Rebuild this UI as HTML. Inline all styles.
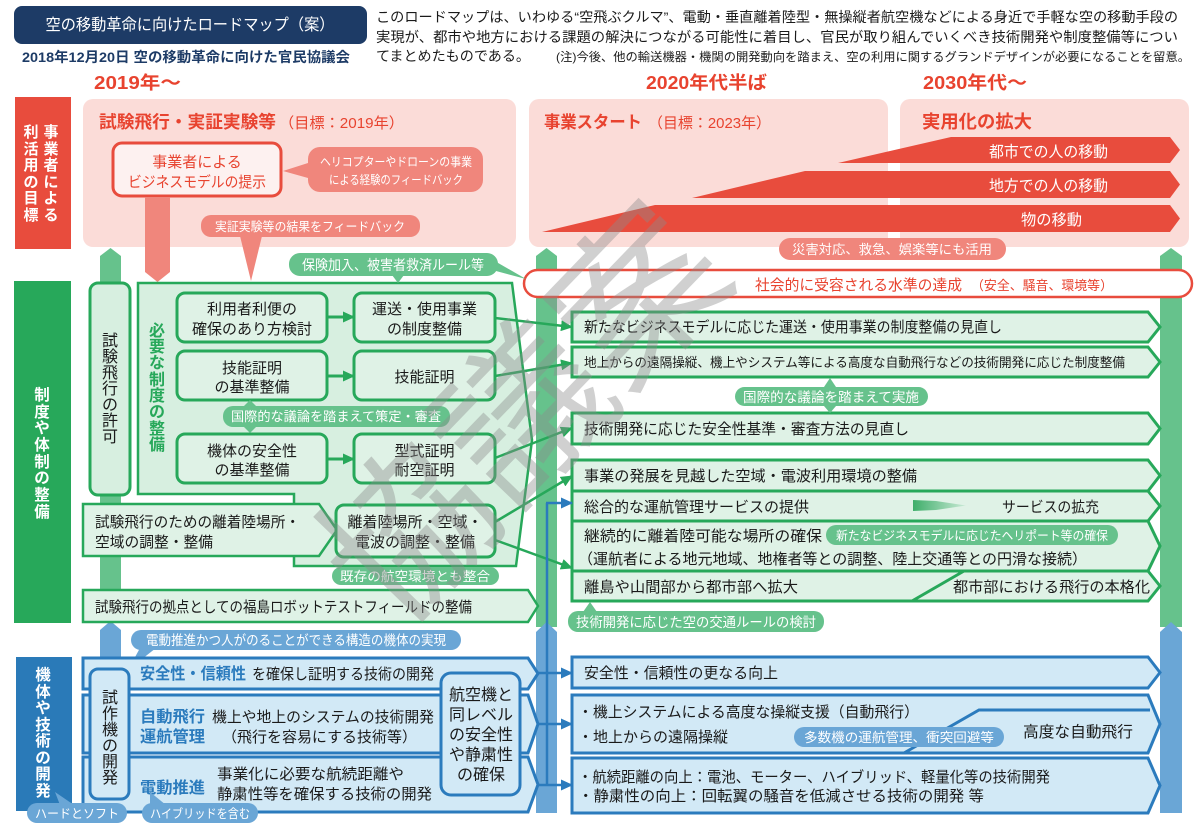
<!DOCTYPE html>
<html><head><meta charset="utf-8">
<style>
html,body{margin:0;padding:0;background:#fff;}
svg{display:block;}
text{font-family:"Liberation Sans","Noto Sans CJK JP",sans-serif;}
</style></head><body>
<svg width="1200" height="831" viewBox="0 0 1200 831" xmlns="http://www.w3.org/2000/svg">
<defs>
<marker id="ag" markerUnits="userSpaceOnUse" markerWidth="12" markerHeight="11" refX="11" refY="5.5" orient="auto"><path d="M0,0 L12,5.5 L0,11 z" fill="#27a85a"/></marker>
<marker id="ab" markerUnits="userSpaceOnUse" markerWidth="12" markerHeight="11" refX="11" refY="5.5" orient="auto"><path d="M0,0 L12,5.5 L0,11 z" fill="#2b7bbd"/></marker>
<linearGradient id="wg" x1="0" x2="1" y1="0" y2="0"><stop offset="0" stop-color="#3fae6a"/><stop offset="1" stop-color="#c9ead6"/></linearGradient>
</defs>

<!-- Header -->
<rect x="14" y="6" width="353" height="38" rx="8" fill="#1d3b66"/>
<text x="190" y="30" text-anchor="middle" font-size="16" fill="#fff" textLength="289" lengthAdjust="spacingAndGlyphs">空の移動革命に向けたロードマップ（案）</text>
<text x="22" y="62" font-size="14" font-weight="bold" fill="#1d3b66" textLength="328" lengthAdjust="spacingAndGlyphs">2018年12月20日 空の移動革命に向けた官民協議会</text>
<g font-size="14" fill="#1a1a1a">
<text x="376" y="22" textLength="802" lengthAdjust="spacingAndGlyphs">このロードマップは、いわゆる“空飛ぶクルマ”、電動・垂直離着陸型・無操縦者航空機などによる身近で手軽な空の移動手段の</text>
<text x="376" y="42" textLength="802" lengthAdjust="spacingAndGlyphs">実現が、都市や地方における課題の解決につながる可能性に着目し、官民が取り組んでいくべき技術開発や制度整備等につい</text>
<text x="376" y="61" textLength="154" lengthAdjust="spacingAndGlyphs">てまとめたものである。</text>
<text x="556" y="61" font-size="12" textLength="634" lengthAdjust="spacingAndGlyphs">(注)今後、他の輸送機器・機関の開発動向を踏まえ、空の利用に関するグランドデザインが必要になることを留意。</text>
</g>
<g font-size="18" font-weight="bold" fill="#e8432f">
<text x="94" y="89" textLength="87" lengthAdjust="spacingAndGlyphs">2019年～</text>
<text x="646" y="89" textLength="121" lengthAdjust="spacingAndGlyphs">2020年代半ば</text>
<text x="923" y="89" textLength="104" lengthAdjust="spacingAndGlyphs">2030年代～</text>
</g>

<!-- Row 1 -->
<rect x="15" y="97" width="56" height="152" fill="#e84c3d"/>
<g fill="#fff" font-size="15" font-weight="bold" text-anchor="middle">
<text x="51" y="137">事</text><text x="51" y="154">業</text><text x="51" y="170">者</text><text x="51" y="187">に</text><text x="51" y="203">よ</text><text x="51" y="220">る</text>
<text x="31" y="137">利</text><text x="31" y="154">活</text><text x="31" y="170">用</text><text x="31" y="187">の</text><text x="31" y="203">目</text><text x="31" y="220">標</text>
</g>
<rect x="83" y="99" width="433" height="148" rx="10" fill="#fbdcd8"/>
<rect x="529" y="99" width="359" height="148" rx="10" fill="#fbdcd8"/>
<rect x="900" y="99" width="289" height="148" rx="10" fill="#fbdcd8"/>
<g fill="#e8432f">
<text x="99" y="128" font-size="17.5" font-weight="bold" textLength="177" lengthAdjust="spacingAndGlyphs">試験飛行・実証実験等</text>
<text x="279" y="128" font-size="15" textLength="125" lengthAdjust="spacingAndGlyphs">（目標：2019年）</text>
<text x="544" y="128" font-size="17" font-weight="bold" textLength="98" lengthAdjust="spacingAndGlyphs">事業スタート</text>
<text x="648" y="128" font-size="15" textLength="123" lengthAdjust="spacingAndGlyphs">（目標：2023年）</text>
<text x="922" y="128" font-size="18" font-weight="bold" textLength="110" lengthAdjust="spacingAndGlyphs">実用化の拡大</text>
</g>
<!-- business model box -->
<rect x="113" y="143" width="168" height="53" rx="9" fill="#fdf1f0" stroke="#e84c3d" stroke-width="3"/>
<g fill="#e8432f" font-size="15" text-anchor="middle">
<text x="197" y="167">事業者による</text>
<text x="197" y="187" textLength="138" lengthAdjust="spacingAndGlyphs">ビジネスモデルの提示</text>
</g>
<path d="M320,147 H471 a12,12 0 0 1 12,12 V180 a12,12 0 0 1 -12,12 H320 a12,12 0 0 1 -12,-12 V178 L283,171 L308,163 V159 a12,12 0 0 1 12,-12 z" fill="#f0867c"/>
<g fill="#fff" font-size="12" text-anchor="middle">
<text x="396" y="166" textLength="152" lengthAdjust="spacingAndGlyphs">ヘリコプターやドローンの事業</text>
<text x="396" y="184" textLength="134" lengthAdjust="spacingAndGlyphs">による経験のフィードバック</text>
</g>
<polygon points="145,197 170,197 170,272 157.5,282 145,272" fill="#f0867c"/>
<rect x="201" y="215" width="219" height="22" rx="10" fill="#f0867c"/>
<polygon points="240,236 262,236 251,281" fill="#f0867c"/>
<text x="310" y="231" text-anchor="middle" font-size="12.5" fill="#fff" textLength="190" lengthAdjust="spacingAndGlyphs">実証実験等の結果をフィードバック</text>

<!-- red arrows -->
<g fill="#e84c3d">
<polygon points="838,163 951,137 1170,137 1180,150 1170,163"/>
<polygon points="692,198 805,171 1170,171 1180,184.5 1170,198"/>
<polygon points="542,232 655,205 1170,205 1180,218.5 1170,232"/>
</g>
<g fill="#fff" font-size="15.5">
<text x="989" y="157" textLength="119" lengthAdjust="spacingAndGlyphs">都市での人の移動</text>
<text x="989" y="191" textLength="119" lengthAdjust="spacingAndGlyphs">地方での人の移動</text>
<text x="1021" y="225" textLength="61" lengthAdjust="spacingAndGlyphs">物の移動</text>
</g>
<rect x="779" y="238" width="227" height="22" rx="11" fill="#f0867c"/>
<text x="892" y="254" text-anchor="middle" font-size="13" fill="#fff" textLength="200" lengthAdjust="spacingAndGlyphs">災害対応、救急、娯楽等にも活用</text>

<!-- vertical bars -->
<g fill="#66c28c">
<polygon points="100,256 110.5,248 121,256 121,622 100,622"/>
<polygon points="536,256 546.5,248 557,256 557,627 536,627"/>
<polygon points="1160,256 1171,248 1182,256 1182,627 1160,627"/>
</g>
<g fill="#6aa6d6">
<polygon points="100,630 110.5,621 121,630 121,662 100,662"/>
<polygon points="536,632 546.5,622 557,632 557,813 536,813"/>
<polygon points="1160,632 1171,622 1182,632 1182,813 1160,813"/>
</g>

<!-- social acceptance -->
<rect x="524" y="270" width="668" height="27" rx="13.5" fill="#fff" stroke="#e84c3d" stroke-width="2.5"/>
<text x="755" y="290" font-size="15" fill="#e8432f" textLength="207" lengthAdjust="spacingAndGlyphs">社会的に受容される水準の達成</text>
<text x="971" y="290" font-size="13" fill="#e8432f" textLength="142" lengthAdjust="spacingAndGlyphs">（安全、騒音、環境等）</text>

<!-- Row 2 label -->
<rect x="14" y="281" width="57" height="342" fill="#27a85a"/>
<g fill="#fff" font-size="15.5" font-weight="bold" text-anchor="middle">
<text x="42" y="400">制</text><text x="42" y="417">度</text><text x="42" y="433">や</text><text x="42" y="450">体</text><text x="42" y="467">制</text><text x="42" y="483">の</text><text x="42" y="500">整</text><text x="42" y="517">備</text>
</g>

<!-- 試験飛行の許可 -->
<rect x="90" y="283" width="40" height="212" rx="8" fill="#d7efe0" stroke="#27a85a" stroke-width="3"/>
<g fill="#1a1a1a" font-size="16" text-anchor="middle">
<text x="110" y="346">試</text><text x="110" y="362">験</text><text x="110" y="378">飛</text><text x="110" y="394">行</text><text x="110" y="410">の</text><text x="110" y="426">許</text><text x="110" y="442">可</text>
</g>

<!-- big polygon -->
<path d="M138,283 L512,283 L532,440 L516,566 L294,566 L294,494 L138,494 Z" fill="#d7efe0" stroke="#27a85a" stroke-width="2.5"/>
<g fill="#27a85a" font-size="16" font-weight="bold" text-anchor="middle">
<text x="157" y="336">必</text><text x="157" y="352">要</text><text x="157" y="368">な</text><text x="157" y="385">制</text><text x="157" y="401">度</text><text x="157" y="417">の</text><text x="157" y="434">整</text><text x="157" y="450">備</text>
</g>
<g fill="#dff2e6" stroke="#27a85a" stroke-width="3">
<rect x="177" y="293" width="150" height="49" rx="8"/>
<rect x="354" y="293" width="141" height="49" rx="8"/>
<rect x="177" y="351" width="150" height="49" rx="8"/>
<rect x="354" y="351" width="141" height="49" rx="8"/>
<rect x="177" y="434" width="150" height="49" rx="8"/>
<rect x="354" y="434" width="141" height="49" rx="8"/>
</g>
<g fill="#1a1a1a" font-size="15" text-anchor="middle">
<text x="252" y="314">利用者利便の</text>
<text x="252" y="334">確保のあり方検討</text>
<text x="424.5" y="314">運送・使用事業</text>
<text x="424.5" y="334">の制度整備</text>
<text x="252" y="373">技能証明</text>
<text x="252" y="392">の基準整備</text>
<text x="424.5" y="382">技能証明</text>
<text x="252" y="456">機体の安全性</text>
<text x="252" y="475">の基準整備</text>
<text x="424.5" y="456">型式証明</text>
<text x="424.5" y="475">耐空証明</text>
</g>
<g stroke="#27a85a" stroke-width="3">
<line x1="327" y1="317" x2="354" y2="317" marker-end="url(#ag)"/>
<line x1="327" y1="376" x2="354" y2="376" marker-end="url(#ag)"/>
<line x1="327" y1="459" x2="354" y2="459" marker-end="url(#ag)"/>
</g>
<rect x="223" y="406" width="227" height="21" rx="10" fill="#66c28c"/>
<polygon points="244,406 256,406 250,400" fill="#66c28c"/>
<polygon points="244,427 256,427 250,433" fill="#66c28c"/>
<text x="336" y="421" text-anchor="middle" font-size="13" fill="#fff" textLength="210" lengthAdjust="spacingAndGlyphs">国際的な議論を踏まえて策定・審査</text>

<!-- landing chevrons -->
<path d="M83,504 L319,504 L337,530 L319,556 L83,556 Z" fill="#dff2e6" stroke="#27a85a" stroke-width="2.5"/>
<g fill="#1a1a1a" font-size="15">
<text x="95" y="527" textLength="205" lengthAdjust="spacingAndGlyphs">試験飛行のための離着陸場所・</text>
<text x="95" y="547" textLength="118" lengthAdjust="spacingAndGlyphs">空域の調整・整備</text>
</g>
<rect x="336" y="505" width="159" height="52" rx="8" fill="#dff2e6" stroke="#27a85a" stroke-width="3"/>
<g fill="#1a1a1a" font-size="15" text-anchor="middle">
<text x="415" y="527">離着陸場所・空域・</text>
<text x="415" y="547">電波の調整・整備</text>
</g>
<rect x="332" y="567" width="167" height="18" rx="9" fill="#66c28c"/>
<text x="415" y="581" text-anchor="middle" font-size="13" fill="#fff" textLength="150" lengthAdjust="spacingAndGlyphs">既存の航空環境とも整合</text>
<path d="M83,590 L528,590 L538,606 L528,622 L83,622 Z" fill="#dff2e6" stroke="#27a85a" stroke-width="2.5"/>
<text x="95" y="612" font-size="15" fill="#1a1a1a" textLength="377" lengthAdjust="spacingAndGlyphs">試験飛行の拠点としての福島ロボットテストフィールドの整備</text>

<!-- insurance callout -->
<rect x="289" y="253" width="209" height="23" rx="11" fill="#66c28c"/>
<polygon points="486,256 496,271 526,279" fill="#66c28c"/>
<polygon points="392,275 404,275 398,283" fill="#66c28c"/>
<text x="393" y="270" text-anchor="middle" font-size="14" fill="#fff" textLength="182" lengthAdjust="spacingAndGlyphs">保険加入、被害者救済ルール等</text>

<!-- Right green chevrons -->
<g fill="#dff2e6" stroke="#27a85a" stroke-width="3">
<path d="M572,312 L1148,312 L1160,327 L1148,342 L572,342 Z"/>
<path d="M572,347 L1148,347 L1160,362 L1148,377 L572,377 Z"/>
<path d="M572,413 L1148,413 L1160,428.5 L1148,444 L572,444 Z"/>
<path d="M572,460 L1148,460 L1160,475.5 L1148,491 L572,491 Z"/>
<path d="M572,491 L1148,491 L1160,506 L1148,521 L572,521 Z"/>
<path d="M572,521 L1148,521 L1160,546 L1148,571 L572,571 Z"/>
<path d="M572,571 L1148,571 L1160,586 L1148,601 L572,601 Z"/>
</g>
<line x1="912" y1="601" x2="964" y2="571" stroke="#27a85a" stroke-width="3"/>
<polygon points="913,500 936,501 966,505.5 936,510 913,511" fill="url(#wg)"/>
<g fill="#1a1a1a" font-size="15">
<text x="584" y="332" textLength="418" lengthAdjust="spacingAndGlyphs">新たなビジネスモデルに応じた運送・使用事業の制度整備の見直し</text>
<text x="584" y="367" font-size="13" textLength="541" lengthAdjust="spacingAndGlyphs">地上からの遠隔操縦、機上やシステム等による高度な自動飛行などの技術開発に応じた制度整備</text>
<text x="584" y="434" textLength="325" lengthAdjust="spacingAndGlyphs">技術開発に応じた安全性基準・審査方法の見直し</text>
<text x="584" y="481" textLength="333" lengthAdjust="spacingAndGlyphs">事業の発展を見越した空域・電波利用環境の整備</text>
<text x="584" y="512" textLength="225" lengthAdjust="spacingAndGlyphs">総合的な運航管理サービスの提供</text>
<text x="1002" y="512" textLength="97" lengthAdjust="spacingAndGlyphs">サービスの拡充</text>
<text x="584" y="541" textLength="238" lengthAdjust="spacingAndGlyphs">継続的に離着陸可能な場所の確保</text>
<text x="578" y="564" textLength="509" lengthAdjust="spacingAndGlyphs">（運航者による地元地域、地権者等との調整、陸上交通等との円滑な接続）</text>
<text x="584" y="592" textLength="214" lengthAdjust="spacingAndGlyphs">離島や山間部から都市部へ拡大</text>
<text x="953" y="592" textLength="197" lengthAdjust="spacingAndGlyphs">都市部における飛行の本格化</text>
</g>
<rect x="735" y="387" width="193" height="19" rx="9.5" fill="#66c28c"/>
<polygon points="824,387 836,387 830,378" fill="#66c28c"/>
<polygon points="824,406 836,406 830,413" fill="#66c28c"/>
<text x="831" y="402" text-anchor="middle" font-size="13.5" fill="#fff" textLength="176" lengthAdjust="spacingAndGlyphs">国際的な議論を踏まえて実施</text>
<rect x="826" y="525" width="292" height="20" rx="10" fill="#66c28c"/>
<text x="972" y="540" text-anchor="middle" font-size="12.5" fill="#fff" textLength="272" lengthAdjust="spacingAndGlyphs">新たなビジネスモデルに応じたヘリポート等の確保</text>
<rect x="568" y="611" width="256" height="21" rx="10" fill="#66c28c"/>
<polygon points="583,612 597,612 590,602" fill="#66c28c"/>
<text x="696" y="627" text-anchor="middle" font-size="13.5" fill="#fff" textLength="240" lengthAdjust="spacingAndGlyphs">技術開発に応じた空の交通ルールの検討</text>

<!-- green connectors -->
<g stroke="#27a85a" stroke-width="2.5" fill="none">
<line x1="495" y1="318" x2="572" y2="327" marker-end="url(#ag)"/>
<line x1="495" y1="376" x2="572" y2="363" marker-end="url(#ag)"/>
<line x1="495" y1="458" x2="572" y2="428" marker-end="url(#ag)"/>
<line x1="495" y1="522" x2="572" y2="476" marker-end="url(#ag)"/>
<line x1="495" y1="540" x2="572" y2="568" marker-end="url(#ag)"/>
</g>

<!-- Row 3 -->
<rect x="16" y="657" width="56" height="154" fill="#2a7ab8"/>
<g fill="#fff" font-size="15.5" font-weight="bold" text-anchor="middle">
<text x="43" y="680">機</text><text x="43" y="697">体</text><text x="43" y="713">や</text><text x="43" y="730">技</text><text x="43" y="746">術</text><text x="43" y="763">の</text><text x="43" y="779">開</text><text x="43" y="796">発</text>
</g>
<rect x="131" y="630" width="330" height="20" rx="10" fill="#6aa6d6"/>
<polygon points="140,648 156,648 128,670" fill="#6aa6d6"/>
<text x="296" y="645" text-anchor="middle" font-size="13.5" fill="#fff" textLength="300" lengthAdjust="spacingAndGlyphs">電動推進かつ人がのることができる構造の機体の実現</text>

<g fill="#d2e9f6" stroke="#2b7bbd" stroke-width="3">
<path d="M83,658 L528,658 L538,673.5 L528,689 L83,689 Z"/>
<path d="M83,695 L528,695 L538,724 L528,753 L83,753 Z"/>
<path d="M83,757 L528,757 L538,784.5 L528,812 L83,812 Z"/>
<rect x="90" y="669" width="39" height="130" rx="8"/>
<rect x="441" y="673" width="79" height="122" rx="10"/>
</g>
<g fill="#1a1a1a" font-size="16" text-anchor="middle">
<text x="110" y="703">試</text><text x="110" y="719">作</text><text x="110" y="735">機</text><text x="110" y="751">の</text><text x="110" y="767">開</text><text x="110" y="783">発</text>
<text x="481" y="700">航空機と</text>
<text x="481" y="720">同レベル</text>
<text x="481" y="740">の安全性</text>
<text x="481" y="760">や静粛性</text>
<text x="481" y="780">の確保</text>
</g>
<g fill="#2b7bbd" font-size="16" font-weight="bold">
<text x="140" y="679" textLength="106" lengthAdjust="spacingAndGlyphs">安全性・信頼性</text>
<text x="140" y="722" textLength="65" lengthAdjust="spacingAndGlyphs">自動飛行</text>
<text x="140" y="742" textLength="65" lengthAdjust="spacingAndGlyphs">運航管理</text>
<text x="140" y="793" textLength="65" lengthAdjust="spacingAndGlyphs">電動推進</text>
</g>
<g fill="#1a1a1a" font-size="15">
<text x="252" y="679" textLength="182" lengthAdjust="spacingAndGlyphs">を確保し証明する技術の開発</text>
<text x="212" y="722" textLength="222" lengthAdjust="spacingAndGlyphs">機上や地上のシステムの技術開発</text>
<text x="222" y="742" textLength="195" lengthAdjust="spacingAndGlyphs">（飛行を容易にする技術等）</text>
<text x="217" y="779" textLength="187" lengthAdjust="spacingAndGlyphs">事業化に必要な航続距離や</text>
<text x="217" y="799" textLength="215" lengthAdjust="spacingAndGlyphs">静粛性等を確保する技術の開発</text>
</g>
<rect x="27" y="803" width="100" height="20" rx="10" fill="#6aa6d6"/>
<polygon points="60,805 74,805 55,792" fill="#6aa6d6"/>
<text x="77" y="818" text-anchor="middle" font-size="12.5" fill="#fff" textLength="84" lengthAdjust="spacingAndGlyphs">ハードとソフト</text>
<rect x="142" y="803" width="116" height="20" rx="10" fill="#6aa6d6"/>
<polygon points="150,805 166,805 150,792" fill="#6aa6d6"/>
<text x="200" y="818" text-anchor="middle" font-size="12.5" fill="#fff" textLength="100" lengthAdjust="spacingAndGlyphs">ハイブリッドを含む</text>

<!-- Right blue chevrons -->
<g fill="#d2e9f6" stroke="#2b7bbd" stroke-width="3">
<path d="M572,657 L1148,657 L1160,672.5 L1148,688 L572,688 Z"/>
<path d="M572,695 L1148,695 L1160,724 L1148,753 L572,753 Z"/>
<path d="M572,758 L1148,758 L1160,785.5 L1148,813 L572,813 Z"/>
</g>
<polyline points="904,753 979,710 1150,710" fill="none" stroke="#2b7bbd" stroke-width="3"/>
<rect x="794" y="727" width="210" height="20" rx="10" fill="#6aa6d6"/>
<text x="899" y="742" text-anchor="middle" font-size="13" fill="#fff" textLength="190" lengthAdjust="spacingAndGlyphs">多数機の運航管理、衝突回避等</text>
<g fill="#1a1a1a" font-size="15">
<text x="584" y="678" textLength="194" lengthAdjust="spacingAndGlyphs">安全性・信頼性の更なる向上</text>
<text x="578" y="717" textLength="341" lengthAdjust="spacingAndGlyphs">・機上システムによる高度な操縦支援（自動飛行）</text>
<text x="578" y="742" textLength="150" lengthAdjust="spacingAndGlyphs">・地上からの遠隔操縦</text>
<text x="1023" y="737" font-size="15.5" textLength="110" lengthAdjust="spacingAndGlyphs">高度な自動飛行</text>
<text x="578" y="782" textLength="472" lengthAdjust="spacingAndGlyphs">・航続距離の向上：電池、モーター、ハイブリッド、軽量化等の技術開発</text>
<text x="578" y="801" textLength="406" lengthAdjust="spacingAndGlyphs">・静粛性の向上：回転翼の騒音を低減させる技術の開発 等</text>
</g>

<!-- blue connectors -->
<g stroke="#2b7bbd" stroke-width="2.5" fill="none">
<line x1="547" y1="503" x2="547" y2="786"/>
<line x1="546" y1="503" x2="572" y2="503" marker-end="url(#ab)"/>
<line x1="538" y1="673" x2="572" y2="673" marker-end="url(#ab)"/>
<line x1="538" y1="724" x2="572" y2="724" marker-end="url(#ab)"/>
<line x1="538" y1="785" x2="572" y2="785" marker-end="url(#ab)"/>
</g>

<!-- watermark -->
<text x="0" y="0" transform="translate(525,415) rotate(-46)" text-anchor="middle" dominant-baseline="central" font-size="165" fill="#8c8c8c" opacity="0.4">協議案</text>
</svg>
</body></html>
